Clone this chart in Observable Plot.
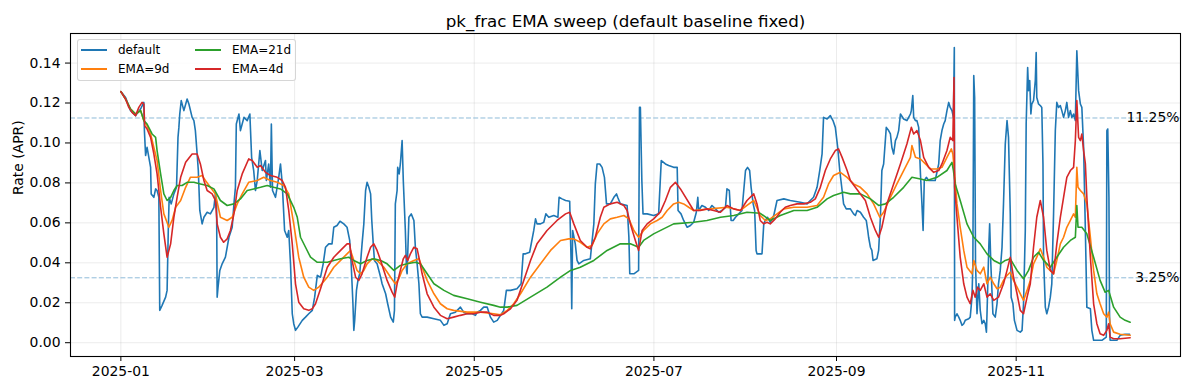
<!DOCTYPE html>
<html><head><meta charset="utf-8">
<script src="https://cdn.jsdelivr.net/npm/d3@7"></script>
<script src="https://cdn.jsdelivr.net/npm/@observablehq/plot@0.6"></script>
<style>
body{margin:0;background:#fff;}
#wrap{position:relative;width:1189px;height:390px;font-family:"DejaVu Sans",sans-serif;}
#legend{position:absolute;left:77px;top:39px;width:219px;height:42px;border:1px solid rgba(204,204,204,0.8);border-radius:3px;background:rgba(255,255,255,0.8);box-sizing:border-box;}
.item{position:absolute;font-size:12px;line-height:14px;color:#000;white-space:nowrap;}
.swatch{position:absolute;width:26px;height:2px;}
</style>
</head><body><div id="wrap"></div>
<script>
// ---- data (day offset from 2025-01-01, rate) ----
const startDate = "2025-01-01";
const titleText = "pk_frac EMA sweep (default baseline fixed)";
const yLabel = "Rate (APR)";
const seriesNames = ["default", "EMA=9d", "EMA=21d", "EMA=4d"];
const seriesColors = ["#1f77b4", "#ff7f0e", "#2ca02c", "#d62728"];
const xTicks = ["2025-01-01", "2025-03-01", "2025-05-01", "2025-07-01", "2025-09-01", "2025-11-01"];
const yTicks = [0, 0.02, 0.04, 0.06, 0.08, 0.10, 0.12, 0.14];
const thresholdValues = [0.1125, 0.0325];
const thresholdLabels = ["11.25%", "3.25%"];

const defaultSeries = [[0,0.1257],[1.6,0.1228],[3.3,0.1162],[5.0,0.1137],[6.7,0.117],[7.8,0.1203],[8.0,0.106],[8.4,0.0937],[8.9,0.0978],[9.5,0.0928],[10.1,0.0878],[10.3,0.0745],[11.2,0.0728],[11.8,0.077],[12.3,0.0762],[12.9,0.0728],[13.2,0.0162],[14.0,0.0187],[15.2,0.0228],[15.7,0.0262],[16.1,0.0562],[16.4,0.0728],[17.1,0.0695],[18.0,0.0745],[18.9,0.0778],[19.4,0.1028],[19.7,0.1078],[20.0,0.1145],[20.5,0.1212],[21.4,0.1162],[22.5,0.122],[23.1,0.1195],[24.2,0.1128],[24.8,0.1112],[25.3,0.1062],[25.9,0.0945],[26.3,0.0862],[26.8,0.0662],[27.6,0.0595],[28.2,0.0628],[29.3,0.0653],[30.4,0.0645],[31.6,0.0678],[32.1,0.0745],[32.5,0.0695],[32.7,0.0228],[33.0,0.0278],[33.6,0.0362],[34.4,0.0395],[35.5,0.0428],[36.7,0.0528],[37.8,0.0578],[38.4,0.0695],[38.9,0.0778],[39.2,0.1095],[40.1,0.1145],[40.6,0.1062],[41.8,0.1128],[42.9,0.1112],[43.8,0.1145],[44.4,0.0928],[45.1,0.0862],[45.7,0.0762],[46.3,0.0812],[47.2,0.0962],[48.0,0.0862],[49.1,0.0912],[49.4,0.0812],[50.2,0.0895],[50.8,0.0778],[51.1,0.1095],[51.5,0.0762],[52.5,0.0728],[53.6,0.0828],[54.2,0.0895],[54.8,0.0795],[55.6,0.0562],[56.5,0.0528],[57.0,0.0562],[57.6,0.0395],[58.2,0.0145],[58.7,0.0095],[59.3,0.0062],[60.1,0.0078],[61.6,0.0112],[62.7,0.0128],[63.8,0.0145],[65.0,0.0162],[65.8,0.0228],[66.7,0.0337],[67.8,0.0328],[68.7,0.0395],[69.5,0.0478],[70.6,0.0495],[71.7,0.0495],[72.3,0.0578],[73.4,0.0587],[74.4,0.0608],[75.7,0.0595],[76.8,0.0578],[77.7,0.0512],[78.2,0.0395],[78.8,0.0195],[79.1,0.0062],[79.4,0.0112],[80.0,0.0262],[80.5,0.0312],[81.1,0.0345],[81.9,0.0495],[82.5,0.0595],[83.1,0.0762],[83.6,0.0803],[84.2,0.0778],[84.8,0.0745],[85.2,0.0612],[85.7,0.0495],[86.1,0.0412],[87.0,0.0395],[88.2,0.0328],[88.7,0.0295],[89.9,0.0245],[90.6,0.0195],[91.6,0.0128],[92.5,0.0103],[92.9,0.0162],[93.2,0.0695],[93.8,0.0762],[94.0,0.0878],[94.5,0.0845],[94.9,0.0895],[95.5,0.1012],[95.9,0.0812],[96.6,0.0562],[97.0,0.0362],[97.2,0.0345],[97.8,0.0628],[98.6,0.0645],[99.5,0.0612],[100.0,0.0478],[100.6,0.0395],[101.2,0.0295],[101.7,0.0145],[102.3,0.0128],[104.0,0.0128],[106.3,0.012],[108.5,0.0112],[109.7,0.0087],[110.8,0.0095],[111.9,0.0145],[113.6,0.0153],[115.3,0.0178],[116.4,0.0153],[117.6,0.0145],[119.3,0.0145],[120.4,0.0137],[121.0,0.0153],[122.1,0.0162],[123.2,0.0178],[124.4,0.0178],[125.5,0.0128],[126.6,0.0103],[127.8,0.0112],[128.9,0.0137],[130.0,0.0162],[130.9,0.0262],[132.3,0.0262],[134.5,0.027],[135.9,0.0295],[136.6,0.0445],[137.4,0.0445],[138.8,0.0453],[140.2,0.0562],[140.8,0.062],[141.3,0.0595],[142.5,0.0595],[143.6,0.0603],[144.3,0.0645],[145.3,0.0628],[147.0,0.0637],[148.4,0.0628],[148.8,0.0728],[149.8,0.072],[151.0,0.0712],[152.4,0.0708],[152.9,0.0395],[153.1,0.017],[153.4,0.0562],[154.3,0.0495],[154.9,0.0412],[155.5,0.0395],[157.2,0.0412],[159.4,0.042],[160.6,0.0595],[161.1,0.0795],[161.7,0.0895],[162.6,0.0895],[163.4,0.0878],[164.2,0.0828],[164.9,0.0695],[166.2,0.0695],[167.4,0.0728],[168.3,0.0745],[168.7,0.0728],[169.6,0.0695],[171.9,0.0687],[172.5,0.0528],[172.8,0.0345],[174.2,0.0345],[175.8,0.0362],[176.1,0.1178],[176.4,0.1178],[176.9,0.0812],[177.3,0.0645],[178.7,0.0645],[180.9,0.0637],[182.6,0.0645],[183.5,0.0912],[184.9,0.0895],[186.0,0.0887],[187.7,0.0878],[188.9,0.0878],[189.2,0.0662],[190.2,0.0645],[191.1,0.0612],[192.3,0.0578],[193.4,0.0587],[194.5,0.0603],[195.4,0.0653],[195.9,0.0728],[196.2,0.0662],[197.3,0.0687],[198.5,0.0678],[199.6,0.0662],[200.7,0.0687],[201.9,0.067],[203.0,0.0653],[204.1,0.0662],[205.3,0.0678],[205.8,0.077],[206.6,0.0762],[207.2,0.0612],[207.9,0.0612],[208.7,0.0628],[209.8,0.0645],[210.9,0.0662],[212.1,0.0862],[212.8,0.0878],[213.5,0.0862],[214.0,0.0778],[214.7,0.0695],[215.2,0.0662],[215.7,0.0462],[216.0,0.0445],[217.7,0.0445],[218.3,0.0595],[218.8,0.0612],[219.6,0.0628],[220.5,0.0603],[221.7,0.0637],[222.8,0.0712],[225.1,0.072],[227.3,0.0712],[230.7,0.0703],[233.0,0.0695],[235.2,0.0728],[236.4,0.0778],[237.3,0.0862],[238.1,0.0945],[238.6,0.1128],[239.8,0.112],[240.9,0.1137],[241.8,0.1112],[242.6,0.1078],[243.4,0.0978],[244.1,0.0862],[244.9,0.0762],[245.4,0.0695],[246.3,0.067],[247.7,0.067],[248.8,0.0645],[249.4,0.0637],[250.0,0.0662],[251.1,0.0653],[252.2,0.0628],[253.1,0.0612],[253.6,0.0562],[253.9,0.0528],[254.5,0.0478],[255.0,0.0462],[255.4,0.0412],[256.7,0.042],[257.3,0.0462],[257.9,0.0628],[258.4,0.0862],[259.0,0.0895],[259.9,0.1078],[260.7,0.1062],[261.3,0.1045],[261.8,0.0978],[262.4,0.0945],[263.0,0.1012],[263.5,0.1028],[264.1,0.1062],[264.7,0.1145],[265.8,0.112],[266.9,0.1112],[267.5,0.1128],[268.1,0.1145],[268.4,0.1162],[268.9,0.1237],[269.2,0.1128],[269.8,0.1112],[270.3,0.1112],[270.9,0.1078],[271.5,0.0845],[272.0,0.0695],[272.4,0.0562],[272.8,0.0812],[273.5,0.0828],[274.3,0.0812],[276.5,0.0812],[277.7,0.0895],[278.2,0.1012],[278.8,0.1062],[279.4,0.1095],[279.9,0.1112],[280.5,0.1162],[281.1,0.1203],[281.6,0.1178],[282.2,0.1162],[282.7,0.1128],[283.0,0.1478],[283.1,0.0112],[283.3,0.0128],[283.9,0.0145],[284.5,0.0128],[285.0,0.0112],[285.6,0.0087],[286.2,0.0095],[286.7,0.0112],[287.9,0.012],[288.4,0.0128],[289.0,0.0228],[289.3,0.0395],[289.6,0.1337],[289.9,0.1228],[290.2,0.0395],[290.7,0.0145],[291.3,0.0295],[291.8,0.0162],[292.4,0.0095],[293.0,0.0112],[293.5,0.0095],[293.9,0.0053],[294.1,0.0145],[294.7,0.0478],[295.0,0.0595],[295.4,0.0395],[296.1,0.0145],[296.9,0.0128],[297.5,0.0195],[298.0,0.0295],[298.6,0.0362],[299.2,0.0478],[299.7,0.0695],[300.3,0.0995],[300.9,0.1112],[301.4,0.1028],[302.0,0.0645],[302.3,0.0228],[302.9,0.0195],[303.4,0.0112],[304.3,0.0062],[305.4,0.0053],[306.0,0.0062],[306.5,0.0195],[307.1,0.0562],[307.4,0.1095],[307.9,0.1378],[308.2,0.1262],[308.6,0.1312],[309.0,0.1145],[309.3,0.1195],[309.9,0.1212],[310.5,0.1312],[310.8,0.1453],[311.0,0.1228],[311.6,0.1195],[312.2,0.1187],[312.7,0.1178],[313.1,0.0895],[313.3,0.0428],[313.9,0.0178],[314.4,0.0145],[315.0,0.0178],[315.6,0.0228],[316.1,0.0295],[316.7,0.0645],[317.3,0.1062],[317.8,0.1203],[318.4,0.1178],[319.0,0.1187],[319.5,0.1162],[320.1,0.1128],[320.7,0.1162],[321.2,0.1203],[321.8,0.1128],[322.4,0.1162],[322.9,0.1128],[323.5,0.1145],[324.1,0.1112],[324.6,0.1462],[325.2,0.1262],[325.8,0.1195],[326.3,0.1178],[326.9,0.0978],[327.5,0.0562],[328.0,0.0178],[329.2,0.017],[329.7,0.0062],[330.3,0.0012],[333.1,0.0012],[334.6,0.0028],[334.8,0.1062],[335.1,0.107],[335.5,0.0728],[335.7,0.0145],[335.9,0.0012],[338.2,0.0012],[339.3,0.0037],[341.0,0.0042],[342.5,0.0042]];

const ema9Series = [[0,0.1257],[1.6,0.122],[3.3,0.117],[5.0,0.1145],[6.7,0.1162],[7.8,0.1112],[8.9,0.1087],[10.1,0.1045],[11.2,0.0978],[12.3,0.0912],[13.5,0.0762],[14.6,0.0645],[16.3,0.0578],[17.4,0.0612],[18.6,0.0678],[20.3,0.0712],[22.0,0.0778],[23.6,0.0828],[25.9,0.0828],[27.6,0.0837],[28.7,0.0812],[30.4,0.0778],[32.1,0.0745],[33.8,0.0628],[36.1,0.0612],[37.8,0.0628],[39.5,0.0695],[41.2,0.0745],[43.4,0.0803],[46.3,0.0812],[48.5,0.0828],[50.8,0.0812],[53.1,0.0803],[55.3,0.0787],[57.0,0.0745],[58.7,0.0595],[60.4,0.0428],[62.1,0.0328],[63.8,0.0278],[65.5,0.0262],[67.2,0.0278],[70.1,0.0328],[72.3,0.0378],[74.6,0.0412],[76.8,0.0445],[78.0,0.0462],[79.1,0.0412],[80.2,0.0362],[81.4,0.0345],[82.5,0.0362],[83.6,0.0395],[85.3,0.042],[87.0,0.0412],[89.3,0.0378],[91.6,0.0328],[93.2,0.0295],[94.4,0.032],[95.5,0.0362],[97.2,0.0395],[99.5,0.0412],[101.2,0.042],[102.3,0.0378],[104.0,0.0312],[106.3,0.0245],[108.5,0.0195],[110.8,0.017],[113.0,0.0162],[117.6,0.0153],[122.1,0.0153],[126.6,0.0145],[128.9,0.014],[131.2,0.0162],[133.4,0.0195],[135.7,0.0245],[139.1,0.0328],[142.5,0.0395],[145.9,0.0462],[149.3,0.0512],[152.1,0.052],[153.8,0.052],[156.0,0.0503],[158.3,0.0478],[160.0,0.0487],[161.7,0.0545],[164.0,0.0595],[166.2,0.062],[168.5,0.0628],[170.8,0.0637],[172.5,0.062],[174.2,0.0562],[175.8,0.0528],[177.5,0.0562],[179.8,0.0595],[182.1,0.0612],[183.8,0.0628],[185.5,0.0662],[187.7,0.0695],[189.4,0.0703],[191.1,0.0695],[192.8,0.0678],[194.5,0.0662],[200.2,0.067],[205.8,0.0678],[210.4,0.0662],[212.6,0.0687],[214.9,0.0712],[217.1,0.0637],[218.8,0.0612],[220.5,0.062],[222.8,0.0645],[225.1,0.067],[228.5,0.0678],[233.0,0.0678],[236.4,0.0687],[238.6,0.0728],[240.3,0.0795],[242.0,0.0837],[244.3,0.0853],[246.6,0.0828],[248.8,0.0795],[251.1,0.0778],[253.4,0.0745],[255.6,0.0695],[257.7,0.0628],[259.0,0.0653],[261.3,0.0728],[263.5,0.0795],[265.8,0.0862],[268.1,0.0928],[268.6,0.0987],[269.8,0.0928],[271.5,0.092],[273.2,0.0895],[274.9,0.087],[277.1,0.087],[278.8,0.0878],[280.5,0.0928],[282.0,0.097],[282.5,0.0945],[283.0,0.0862],[283.9,0.0695],[285.0,0.0578],[286.2,0.0462],[287.3,0.0378],[289.0,0.0345],[289.6,0.0412],[290.7,0.0362],[291.8,0.0345],[293.0,0.0378],[294.1,0.0295],[295.2,0.0328],[296.4,0.0295],[297.5,0.027],[298.6,0.0278],[299.7,0.0312],[300.9,0.0337],[302.0,0.0353],[303.1,0.0312],[304.3,0.0278],[305.4,0.0245],[306.5,0.0212],[307.7,0.0262],[308.8,0.0312],[309.9,0.0395],[311.0,0.0428],[312.2,0.047],[313.3,0.0428],[314.4,0.0378],[316.7,0.0345],[317.8,0.0412],[319.0,0.0495],[320.1,0.0528],[321.2,0.0578],[322.4,0.0612],[323.5,0.0645],[324.1,0.0628],[324.6,0.0878],[325.0,0.0778],[325.8,0.0762],[326.9,0.0745],[328.0,0.0695],[329.2,0.0528],[330.3,0.0362],[331.4,0.0245],[332.5,0.0195],[333.7,0.0145],[334.8,0.0128],[335.4,0.0153],[335.9,0.0095],[337.1,0.0053],[339.3,0.0042],[342.7,0.0037]];

const ema21Series = [[0,0.1257],[1.6,0.122],[3.3,0.117],[5.0,0.1145],[6.7,0.1162],[7.8,0.1112],[8.9,0.1095],[10.6,0.1045],[11.8,0.1028],[12.3,0.0962],[13.5,0.0845],[14.6,0.0745],[15.7,0.0712],[16.9,0.0728],[18.0,0.0762],[19.1,0.0787],[20.8,0.0787],[22.5,0.0803],[24.8,0.0803],[27.0,0.0795],[29.3,0.0787],[31.6,0.077],[33.8,0.0712],[36.1,0.0687],[38.4,0.0695],[40.6,0.072],[42.9,0.0762],[45.1,0.077],[47.4,0.0778],[49.7,0.0787],[51.9,0.0778],[54.2,0.077],[56.5,0.0745],[58.7,0.0678],[59.9,0.0628],[61.0,0.0528],[62.7,0.0478],[64.4,0.0428],[66.6,0.0403],[70.1,0.0403],[72.3,0.0412],[74.6,0.042],[77.4,0.0428],[79.1,0.0412],[81.4,0.0395],[83.6,0.0412],[85.9,0.042],[88.2,0.0412],[90.4,0.0395],[92.7,0.0362],[94.9,0.0387],[97.2,0.0395],[100.0,0.0403],[101.7,0.0395],[104.0,0.0345],[106.3,0.0295],[109.7,0.0262],[113.0,0.0237],[117.6,0.022],[122.1,0.0203],[126.6,0.0187],[128.9,0.0178],[131.2,0.0178],[134.5,0.0187],[139.1,0.0228],[144.7,0.0278],[149.3,0.0328],[152.7,0.0362],[156.0,0.0378],[160.6,0.0412],[165.1,0.0462],[169.6,0.0495],[173.0,0.0495],[175.8,0.0478],[177.5,0.0512],[180.9,0.0545],[184.3,0.057],[187.7,0.0595],[194.5,0.0603],[199.0,0.0612],[203.6,0.0628],[208.1,0.0637],[212.6,0.0653],[217.1,0.0648],[220.5,0.0612],[223.9,0.0637],[228.5,0.0662],[233.0,0.0662],[236.4,0.0678],[239.8,0.072],[242.0,0.0737],[245.4,0.0753],[247.7,0.0745],[251.1,0.0745],[254.5,0.072],[257.3,0.0687],[259.6,0.0695],[262.4,0.0728],[265.8,0.0778],[268.6,0.0828],[271.5,0.082],[273.7,0.0812],[277.1,0.0828],[280.5,0.0862],[282.2,0.0903],[282.7,0.0862],[283.3,0.0795],[285.0,0.0712],[287.3,0.0595],[289.6,0.0528],[291.8,0.0495],[294.1,0.0445],[296.4,0.0412],[298.6,0.0395],[300.3,0.0412],[302.0,0.042],[304.3,0.0362],[306.5,0.032],[308.2,0.0362],[309.9,0.0428],[311.6,0.0453],[313.3,0.0412],[315.6,0.0378],[317.8,0.0428],[320.1,0.0478],[322.4,0.0512],[324.1,0.0528],[324.6,0.0687],[325.0,0.0578],[326.3,0.0578],[328.0,0.0545],[330.3,0.0428],[332.5,0.0312],[334.2,0.0253],[335.4,0.0262],[337.1,0.0178],[339.3,0.0128],[341.0,0.0112],[342.7,0.0103]];

const ema4Series = [[0,0.1257],[1.6,0.122],[2.7,0.1178],[3.8,0.1153],[5.0,0.1137],[6.1,0.1178],[7.2,0.1203],[7.8,0.1195],[8.1,0.1087],[8.9,0.107],[10.1,0.1028],[11.2,0.0945],[12.3,0.0845],[13.5,0.0678],[14.6,0.0545],[15.7,0.0428],[16.9,0.0495],[18.0,0.0628],[19.1,0.0728],[20.3,0.0828],[22.0,0.0903],[24.2,0.0945],[25.9,0.0945],[27.0,0.0895],[28.2,0.0812],[29.3,0.0762],[31.0,0.0745],[32.1,0.0712],[32.7,0.0595],[33.8,0.0528],[34.9,0.0503],[36.1,0.052],[37.2,0.0562],[38.4,0.0645],[39.5,0.0762],[41.2,0.0845],[43.4,0.092],[44.6,0.0912],[46.3,0.0878],[47.4,0.0887],[49.1,0.0853],[50.8,0.0837],[53.1,0.0828],[54.8,0.0812],[55.9,0.0778],[57.0,0.0662],[58.2,0.0495],[59.3,0.0295],[60.4,0.0203],[62.1,0.017],[63.8,0.0162],[65.0,0.017],[66.1,0.0195],[67.8,0.027],[70.1,0.0378],[72.3,0.0428],[74.6,0.0462],[76.8,0.0495],[77.7,0.0495],[78.5,0.0412],[79.7,0.0328],[80.8,0.0312],[81.9,0.0345],[83.6,0.0428],[84.8,0.0478],[85.9,0.0495],[87.0,0.0462],[88.2,0.0412],[90.4,0.0312],[92.1,0.0253],[93.0,0.0228],[93.8,0.0295],[94.9,0.0362],[95.9,0.042],[96.6,0.0437],[97.4,0.0412],[98.3,0.0445],[99.5,0.0478],[100.6,0.047],[101.2,0.0428],[102.3,0.0345],[104.0,0.0245],[106.3,0.0178],[108.5,0.0137],[110.8,0.012],[113.0,0.0128],[115.3,0.0137],[117.6,0.0145],[119.8,0.0145],[122.1,0.0153],[124.4,0.0153],[126.6,0.0137],[128.9,0.0137],[130.0,0.0145],[132.3,0.017],[134.5,0.0212],[136.8,0.0312],[139.1,0.0412],[141.3,0.0495],[144.7,0.0562],[148.1,0.0612],[151.0,0.0645],[152.4,0.0653],[153.8,0.0595],[156.0,0.0512],[158.3,0.0478],[159.4,0.047],[161.1,0.0528],[162.8,0.0628],[164.0,0.0678],[166.2,0.0695],[168.5,0.0703],[170.8,0.0687],[171.9,0.0662],[173.0,0.0595],[174.7,0.0512],[175.8,0.0462],[177.0,0.0562],[178.7,0.0595],[180.9,0.062],[183.2,0.0655],[184.9,0.0712],[186.6,0.0778],[188.3,0.0803],[190.0,0.077],[194.5,0.0662],[196.8,0.0662],[199.0,0.067],[201.3,0.0662],[203.6,0.0653],[205.8,0.0687],[208.1,0.067],[210.4,0.0662],[212.6,0.0712],[214.9,0.0745],[216.0,0.0695],[217.1,0.0612],[218.3,0.0595],[219.4,0.0603],[220.5,0.0595],[222.2,0.062],[223.9,0.0653],[225.6,0.0678],[227.3,0.0687],[229.6,0.0695],[231.9,0.0695],[234.1,0.0703],[235.8,0.072],[237.5,0.0778],[239.2,0.0862],[240.9,0.092],[242.6,0.0962],[243.7,0.097],[244.9,0.0928],[246.6,0.0862],[247.7,0.0812],[249.4,0.0778],[251.1,0.0745],[252.8,0.0712],[254.5,0.0628],[256.2,0.0562],[257.3,0.0528],[258.4,0.0578],[260.1,0.0695],[262.4,0.0795],[264.7,0.0895],[266.9,0.0995],[268.4,0.1078],[269.2,0.1045],[270.3,0.1062],[271.5,0.1012],[272.6,0.0928],[274.3,0.0878],[276.0,0.0853],[277.7,0.0862],[278.8,0.0895],[280.5,0.0962],[281.6,0.1028],[282.5,0.1012],[282.9,0.1328],[283.1,0.0778],[283.9,0.0628],[285.0,0.0428],[286.2,0.0295],[287.3,0.0228],[288.4,0.0195],[289.3,0.0262],[290.1,0.0228],[290.9,0.0278],[291.8,0.0262],[293.0,0.0295],[294.1,0.0228],[295.2,0.0245],[296.4,0.0212],[298.0,0.0228],[299.7,0.0295],[300.9,0.0362],[302.0,0.0428],[303.1,0.0328],[304.3,0.0245],[305.4,0.0162],[306.5,0.0145],[307.7,0.0228],[308.8,0.0295],[309.9,0.0478],[311.0,0.0628],[312.2,0.0712],[313.3,0.0628],[314.4,0.0462],[315.6,0.0362],[316.7,0.0345],[317.8,0.0495],[319.0,0.0628],[320.1,0.0728],[321.2,0.0828],[322.4,0.0862],[323.5,0.0878],[324.1,0.1012],[324.6,0.1212],[325.2,0.1028],[325.8,0.1012],[326.3,0.1045],[326.9,0.0962],[327.5,0.0895],[328.0,0.0728],[329.2,0.0428],[330.3,0.0195],[331.4,0.0095],[332.5,0.0045],[333.7,0.0037],[334.8,0.0062],[335.4,0.0095],[335.9,0.0028],[337.1,0.002],[339.3,0.002],[342.7,0.0025]];

// ---- build ----
const T0 = new Date(startDate + "T00:00:00Z").getTime();
const toDate = d => new Date(T0 + d * 864e5);
const allSeries = [defaultSeries, ema9Series, ema21Series, ema4Series];
const rows = allSeries.map(s => s.map(([d, v]) => ({date: toDate(d), value: v})));
const fmtMonth = d3.utcFormat("%Y-%m");
const tickDates = xTicks.map(s => new Date(s + "T00:00:00Z"));
const thresholds = thresholdValues.map((v, i) => ({v, label: thresholdLabels[i]}));

const chart = Plot.plot({
  width: 1189, height: 390,
  marginLeft: 70, marginRight: 9, marginTop: 33, marginBottom: 34,
  style: {fontFamily: "DejaVu Sans, sans-serif", fontSize: "13.9px", color: "#000", background: "#fff", overflow: "visible"},
  x: {type: "utc", domain: [toDate(-17.1), toDate(359.8)]},
  y: {domain: [-0.0069, 0.1548]},
  marks: [
    Plot.gridX(tickDates, {stroke: "#b0b0b0", strokeOpacity: 0.3, strokeWidth: 0.8}),
    Plot.gridY(yTicks, {stroke: "#b0b0b0", strokeOpacity: 0.3, strokeWidth: 0.8}),
    Plot.ruleY(thresholds, {y: "v", stroke: "#8fbbd9", strokeWidth: 1, strokeDasharray: "5,2.2"}),
    ...rows.map((r, i) => Plot.line(r, {x: "date", y: "value", stroke: seriesColors[i], strokeWidth: 1.6})),
    Plot.text(thresholds, {y: "v", text: "label", frameAnchor: "right", textAnchor: "end", dx: -1, fill: "#000", fontSize: 13.9}),
    Plot.frame({stroke: "#000", strokeWidth: 1.1}),
    Plot.axisX(tickDates, {tickFormat: d => fmtMonth(d), tickSize: 5, tickPadding: 5, label: null, fontSize: 13.9}),
    Plot.axisY(yTicks, {tickFormat: d3.format(".2f"), tickSize: 5, tickPadding: 5, label: null, fontSize: 13.9}),
    Plot.text([titleText], {text: d => d, frameAnchor: "top", lineAnchor: "bottom", dy: -7, fontSize: 16.7, fill: "#000"}),
    Plot.text([yLabel], {text: d => d, frameAnchor: "left", dx: -52, rotate: -90, fontSize: 13.9, fill: "#000"})
  ]
});

const wrap = document.getElementById("wrap");
wrap.appendChild(chart);

// legend (2 columns, column-major like matplotlib)
const legend = document.createElement("div");
legend.id = "legend";
const colX = [3, 117], rowY = [10, 29];
seriesNames.forEach((name, i) => {
  const c = Math.floor(i / 2), r = i % 2;
  const sw = document.createElement("div");
  sw.className = "swatch";
  sw.style.left = colX[c] + "px";
  sw.style.top = (rowY[r] - 1) + "px";
  sw.style.background = seriesColors[i];
  legend.appendChild(sw);
  const t = document.createElement("div");
  t.className = "item";
  t.style.left = (colX[c] + 37) + "px";
  t.style.top = (rowY[r] - 7) + "px";
  t.textContent = name;
  legend.appendChild(t);
});
wrap.appendChild(legend);
</script></body></html>
